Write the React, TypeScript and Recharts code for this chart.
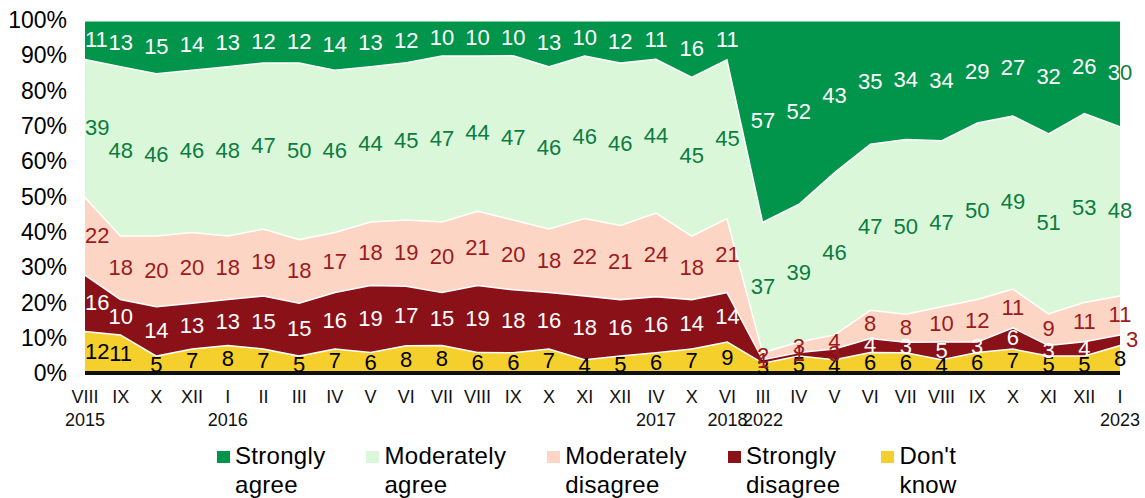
import { AreaChart, Area, XAxis, YAxis, LabelList, ReferenceLine } from 'recharts';

const months = ['VIII', 'IX', 'X', 'XII', 'I', 'II', 'III', 'IV', 'V', 'VI', 'VII', 'VIII', 'IX', 'X', 'XI', 'XII', 'IV', 'X', 'VI', 'III', 'IV', 'V', 'VI', 'VII', 'VIII', 'IX', 'X', 'XI', 'XII', 'I'];
const years = ['2015', '', '', '', '2016', '', '', '', '', '', '', '', '', '', '', '', '2017', '', '2018', '2022', '', '', '', '', '', '', '', '', '', '2023'];

const stronglyAgree = [11, 13, 15, 14, 13, 12, 12, 14, 13, 12, 10, 10, 10, 13, 10, 12, 11, 16, 11, 57, 52, 43, 35, 34, 34, 29, 27, 32, 26, 30];
const moderatelyAgree = [39, 48, 46, 46, 48, 47, 50, 46, 44, 45, 47, 44, 47, 46, 46, 46, 44, 45, 45, 37, 39, 46, 47, 50, 47, 50, 49, 51, 53, 48];
const moderatelyDisagree = [22, 18, 20, 20, 18, 19, 18, 17, 18, 19, 20, 21, 20, 18, 22, 21, 24, 18, 21, 2, 3, 4, 8, 8, 10, 12, 11, 9, 11, 11];
const stronglyDisagree = [16, 10, 14, 13, 13, 15, 15, 16, 19, 17, 15, 19, 18, 16, 18, 16, 16, 14, 14, 1, 1, 3, 4, 3, 5, 3, 6, 3, 4, 3];
const dontKnow = [12, 11, 5, 7, 8, 7, 5, 7, 6, 8, 8, 6, 6, 7, 4, 5, 6, 7, 9, 3, 5, 4, 6, 6, 4, 6, 7, 5, 5, 8];

const yTicks = [0, 0.1, 0.2, 0.3, 0.4, 0.5, 0.6, 0.7, 0.8, 0.9, 1];

const COLORS = {
  sa: '#00954B',
  ma: '#DBF7DA',
  md: '#FDD5C4',
  sd: '#8B1119',
  dk: '#F5CF2B',
};

const FONT = '"Liberation Sans", Arial, sans-serif';
const CHART_H = 440;
const TOP = 20;
const AXIS_H = 67;
const PLOT_H = CHART_H - TOP - AXIS_H;

const data = months.map((m, i) => ({
  month: m,
  dk: dontKnow[i],
  sd: stronglyDisagree[i],
  md: moderatelyDisagree[i],
  ma: moderatelyAgree[i],
  sa: stronglyAgree[i],
}));

const totals = data.map((d) => d.dk + d.sd + d.md + d.ma + d.sa);

// label in the middle of each band; y from recharts is the top of the band
function makeLabel(series: number[], key: string, color: (i: number) => string) {
  return (props: any) => {
    const { x, y, index } = props;
    if (x == null || y == null) return null;
    const v = series[index];
    const midY = y + (v / totals[index]) * PLOT_H / 2;
    const first = index === 0;
    let lx = x;
    if (key === 'sd' && index === series.length - 1) lx = x + 12;
    const common = {
      y: midY,
      fontSize: 22,
      fontFamily: FONT,
      dominantBaseline: 'central' as const,
      textAnchor: (first ? 'start' : 'middle') as any,
    };
    if (key === 'sa' && index === series.length - 1) {
      return (
        <g key={`${key}-${index}`}>
          <defs>
            <clipPath id="sa-last-clip">
              <rect x={0} y={0} width={x} height={CHART_H} />
            </clipPath>
          </defs>
          <text x={lx} {...common} fill="#0B7D3E">{v}</text>
          <text x={lx} {...common} fill="#fff" clipPath="url(#sa-last-clip)">{v}</text>
        </g>
      );
    }
    return (
      <text key={`${key}-${index}`} x={lx} {...common} fill={color(index)}>
        {v}
      </text>
    );
  };
}

const darkSd = new Set([19, 20, 21, 29]);

function MonthTick(props: any) {
  const { x, y, payload } = props;
  const i = payload.index;
  return (
    <g>
      <text x={x} y={y} dy={30} textAnchor="middle" fontSize={18} fontFamily={FONT} fill="#111">
        {months[i]}
      </text>
      {years[i] && (
        <text x={x} y={y} dy={53} textAnchor="middle" fontSize={18} fontFamily={FONT} fill="#111">
          {years[i]}
        </text>
      )}
    </g>
  );
}

const legendItems = [
  { label: ['Strongly', 'agree'], color: COLORS.sa },
  { label: ['Moderately', 'agree'], color: COLORS.ma },
  { label: ['Moderately', 'disagree'], color: COLORS.md },
  { label: ['Strongly', 'disagree'], color: COLORS.sd },
  { label: ["Don't", 'know'], color: COLORS.dk },
];

export default function App() {
  return (
    <div style={{ position: 'absolute', left: 0, top: 0, width: 1145, height: 498, background: '#fff', fontFamily: FONT }}>
      <AreaChart
        width={1145}
        height={CHART_H}
        data={data}
        stackOffset="expand"
        margin={{ top: TOP, right: 25, left: 0, bottom: 0 }}
      >
        <XAxis
          dataKey="month"
          height={AXIS_H}
          interval={0}
          axisLine={false}
          tickLine={false}
          tickSize={0}
          tickMargin={0}
          tick={<MonthTick />}
        />
        <YAxis
          width={85}
          domain={[0, 1]}
          ticks={yTicks}
          tickFormatter={(v: number) => `${Math.round(v * 100)}%`}
          axisLine={false}
          tickLine={false}
          tickSize={0}
          tickMargin={18}
          tick={{ fill: '#000', fontSize: 23, fontFamily: FONT }}
        />
        <Area type="linear" dataKey="dk" stackId="1" fill={COLORS.dk} fillOpacity={1} stroke="#fff" strokeWidth={3} isAnimationActive={false}>
          <LabelList content={makeLabel(dontKnow, 'dk', () => '#000')} />
        </Area>
        <Area type="linear" dataKey="sd" stackId="1" fill={COLORS.sd} fillOpacity={1} stroke="#fff" strokeWidth={3} isAnimationActive={false}>
          <LabelList content={makeLabel(stronglyDisagree, 'sd', (i) => (darkSd.has(i) ? '#9B1B20' : '#fff'))} />
        </Area>
        <Area type="linear" dataKey="md" stackId="1" fill={COLORS.md} fillOpacity={1} stroke="#fff" strokeWidth={3} isAnimationActive={false}>
          <LabelList content={makeLabel(moderatelyDisagree, 'md', () => '#9B1B20')} />
        </Area>
        <Area type="linear" dataKey="ma" stackId="1" fill={COLORS.ma} fillOpacity={1} stroke="#fff" strokeWidth={3} isAnimationActive={false}>
          <LabelList content={makeLabel(moderatelyAgree, 'ma', () => '#0B7D3E')} />
        </Area>
        <Area type="linear" dataKey="sa" stackId="1" fill={COLORS.sa} fillOpacity={1} stroke="#fff" strokeWidth={3} isAnimationActive={false}>
          <LabelList content={makeLabel(stronglyAgree, 'sa', () => '#fff')} />
        </Area>
        <ReferenceLine y={0} stroke="#111" strokeWidth={4} />
      </AreaChart>
      <div style={{ position: 'absolute', left: 217, top: 441, display: 'flex', gap: 41 }}>
        {legendItems.map((it) => (
          <div key={it.label.join(' ')} style={{ display: 'flex', alignItems: 'flex-start' }}>
            <div style={{ width: 13, height: 12, background: it.color, marginTop: 10, marginRight: 5 }} />
            <div style={{ fontSize: 24, lineHeight: '29px', color: '#000', letterSpacing: 0.3 }}>
              <div>{it.label[0]}</div>
              <div>{it.label[1]}</div>
            </div>
          </div>
        ))}
      </div>
    </div>
  );
}
